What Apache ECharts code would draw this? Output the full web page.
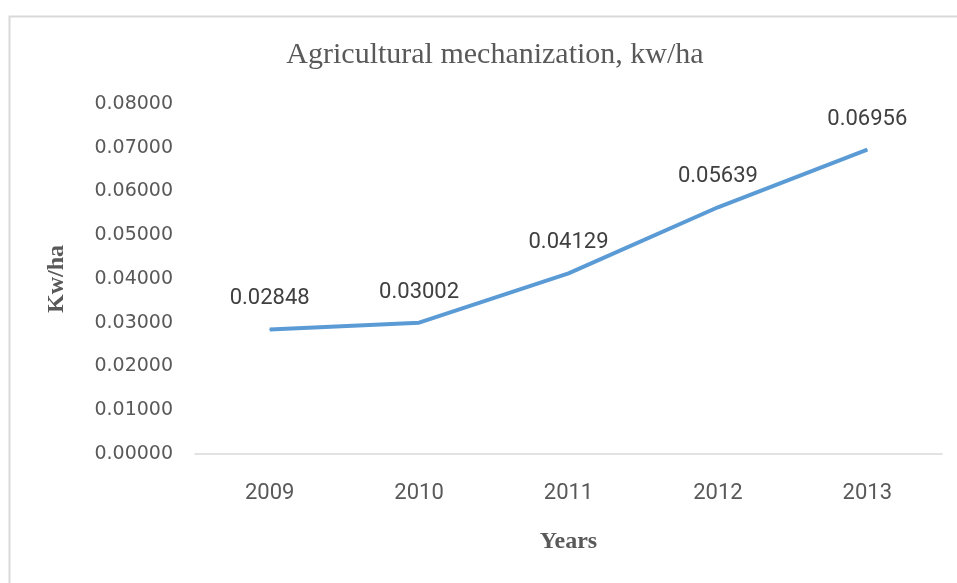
<!DOCTYPE html>
<html>
<head>
<meta charset="utf-8">
<script src="https://cdn.jsdelivr.net/npm/echarts@6/dist/echarts.min.js"></script>
<style>html,body{margin:0;padding:0;background:#fff;}#c{width:957px;height:583px;}</style>
</head>
<body>
<div id="c"></div>
<script>
const years = ['2009', '2010', '2011', '2012', '2013'];
const values = [0.02848, 0.03002, 0.04129, 0.05639, 0.06956];
const yTicks = { min: 0, max: 0.08, interval: 0.01 };

const chart = echarts.init(document.getElementById('c'));
chart.setOption({
  backgroundColor: '#ffffff',
  animation: false,
  graphic: [{
    type: 'rect',
    left: 7, top: 14,
    shape: { x: 0, y: 0, width: 1000, height: 1000 },
    style: { fill: 'none', stroke: '#d9d9d9', lineWidth: 2 },
    silent: true
  }],
  title: {
    text: 'Agricultural mechanization, kw/ha',
    left: 490, top: 35, textAlign: 'center',
    textStyle: { fontFamily: 'Liberation Serif', fontSize: 30, fontWeight: 'normal', color: '#595959' }
  },
  grid: { left: 195, right: 15, top: 104, bottom: 129 },
  xAxis: {
    type: 'category',
    data: years,
    boundaryGap: true,
    axisLine: { show: true, lineStyle: { color: '#d9d9d9', width: 1.5 } },
    axisTick: { show: false },
    axisLabel: { margin: 28, fontFamily: 'Roboto', fontSize: 22, color: '#595959' },
    name: 'Years',
    nameLocation: 'middle',
    nameGap: 76,
    nameTextStyle: { fontFamily: 'Liberation Serif', fontWeight: 'bold', fontSize: 24, color: '#595959' }
  },
  yAxis: {
    type: 'value',
    min: yTicks.min, max: yTicks.max, interval: yTicks.interval,
    axisLine: { show: false },
    axisTick: { show: false },
    splitLine: { show: false },
    axisLabel: {
      margin: 22, fontFamily: 'DejaVu Sans', fontSize: 19, color: '#595959',
      formatter: v => v.toFixed(5)
    },
    name: 'Kw/ha',
    nameLocation: 'middle',
    nameGap: 126,
    nameRotate: 90,
    nameTextStyle: { fontFamily: 'Liberation Serif', fontWeight: 'bold', fontSize: 24, color: '#595959' }
  },
  series: [{
    type: 'line',
    data: values,
    symbol: 'circle',
    symbolSize: 1,
    itemStyle: { color: '#5B9BD5' },
    lineStyle: { color: '#5B9BD5', width: 4 },
    label: {
      show: true, position: 'top', distance: 19,
      fontFamily: 'Roboto', fontSize: 22, color: '#404040',
      formatter: p => p.value.toFixed(5)
    }
  }]
});
</script>
</body>
</html>
